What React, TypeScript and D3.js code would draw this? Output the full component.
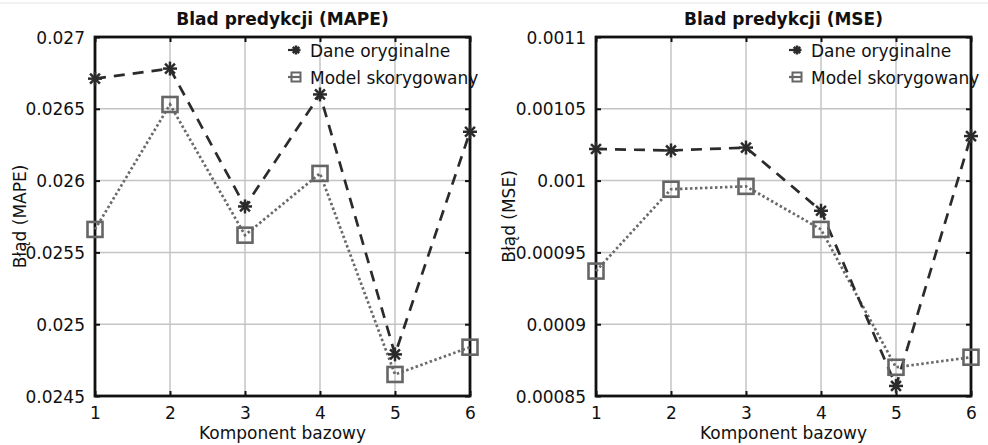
import React, { useEffect, useRef } from 'react';
import * as d3 from 'd3';

const components = [1, 2, 3, 4, 5, 6];
const seriesNames = ['Dane oryginalne', 'Model skorygowany'];

const mapeOriginal = [0.02671, 0.02678, 0.02582, 0.0266, 0.02479, 0.02634];
const mapeCorrected = [0.02566, 0.02653, 0.02562, 0.02605, 0.02465, 0.02484];
const mapeTicks = ['0.0245', '0.025', '0.0255', '0.026', '0.0265', '0.027'];

const mseOriginal = [0.001022, 0.001021, 0.001023, 0.000979, 0.000857, 0.001031];
const mseCorrected = [0.000937, 0.000994, 0.000996, 0.000966, 0.00087, 0.000877];
const mseTicks = ['0.00085', '0.0009', '0.00095', '0.001', '0.00105', '0.0011'];

const FONT = '"DejaVu Sans", Verdana, sans-serif';

type PanelProps = {
  left: number;
  right: number;
  title: string;
  yLabel: string;
  yLabelX: number;
  ticks: string[];
  original: number[];
  corrected: number[];
};

const TOP = 37;
const BOTTOM = 396;

// 8-arm star like matlab's '*'
function star(g: any, cx: number, cy: number, r: number, color: string) {
  const s = g.append('g').attr('transform', `translate(${cx},${cy})`);
  for (let k = 0; k < 4; k++) {
    const a = (k * Math.PI) / 4;
    s.append('line')
      .attr('x1', -r * Math.cos(a)).attr('y1', -r * Math.sin(a))
      .attr('x2', r * Math.cos(a)).attr('y2', r * Math.sin(a))
      .attr('stroke', color).attr('stroke-width', 2.5);
  }
}

function square(g: any, cx: number, cy: number, r: number, color: string, w = 2.6) {
  g.append('rect')
    .attr('x', cx - r).attr('y', cy - r)
    .attr('width', 2 * r).attr('height', 2 * r)
    .attr('fill', 'none').attr('stroke', color).attr('stroke-width', w);
}

function drawPanel(svg: any, p: PanelProps) {
  const vals = p.ticks.map(t => +t);
  const x = d3.scaleLinear().domain([1, 6]).range([p.left, p.right]);
  const y = d3.scaleLinear().domain([vals[0], vals[vals.length - 1]]).range([BOTTOM, TOP]);
  const g = svg.append('g');

  // grid
  g.append('g').selectAll('line').data(components.slice(1, -1)).join('line')
    .attr('x1', d => x(d)).attr('x2', d => x(d)).attr('y1', TOP).attr('y2', BOTTOM)
    .attr('stroke', '#c4c4c4').attr('stroke-width', 1.5);
  g.append('g').selectAll('line').data(vals.slice(1, -1)).join('line')
    .attr('y1', d => y(d)).attr('y2', d => y(d)).attr('x1', p.left).attr('x2', p.right)
    .attr('stroke', '#c4c4c4').attr('stroke-width', 1.5);

  // axes
  const yAxis = d3.axisLeft(y).tickValues(vals).tickFormat((d, i) => p.ticks[i]).tickSize(-5).tickPadding(10);
  const yAxisR = d3.axisRight(y).tickValues(vals).tickFormat(() => '').tickSize(-5);
  const xAxis = d3.axisBottom(x).tickValues(components).tickFormat(d3.format('d')).tickSize(-5).tickPadding(11);
  const xAxisT = d3.axisTop(x).tickValues(components).tickFormat(() => '').tickSize(-5);

  const ay = g.append('g').attr('transform', `translate(${p.left},0)`).call(yAxis);
  const ayr = g.append('g').attr('transform', `translate(${p.right},0)`).call(yAxisR);
  const ax = g.append('g').attr('transform', `translate(0,${BOTTOM})`).call(xAxis);
  const axt = g.append('g').attr('transform', `translate(0,${TOP})`).call(xAxisT);
  [ay, ayr, ax, axt].forEach(a => {
    a.select('.domain').remove();
    a.selectAll('line').attr('stroke', '#111').attr('stroke-width', 2);
    a.selectAll('text').attr('font-family', FONT).attr('font-size', 17).attr('fill', '#111');
  });
  ay.selectAll('text').attr('dy', '0.36em');

  g.append('rect')
    .attr('x', p.left).attr('y', TOP)
    .attr('width', p.right - p.left).attr('height', BOTTOM - TOP)
    .attr('fill', 'none').attr('stroke', '#111').attr('stroke-width', 2.8);

  // lines
  const line = d3.line<number>().x((d, i) => x(components[i])).y(d => y(d));
  g.append('path').attr('d', line(p.corrected)!).attr('fill', 'none')
    .attr('stroke', '#6a6a6a').attr('stroke-width', 2.7).attr('stroke-dasharray', '2.5,2.5');
  g.append('path').attr('d', line(p.original)!).attr('fill', 'none')
    .attr('stroke', '#2b2b2b').attr('stroke-width', 2.7).attr('stroke-dasharray', '11,8');

  p.corrected.forEach((v, i) => square(g, x(components[i]), y(v), 7.5, '#666'));
  p.original.forEach((v, i) => star(g, x(components[i]), y(v), 7, '#2b2b2b'));

  // title and labels
  const cx = (p.left + p.right) / 2;
  g.append('text').attr('x', cx).attr('y', 25).attr('text-anchor', 'middle')
    .attr('font-family', FONT).attr('font-size', 17).attr('font-weight', 'bold').attr('fill', '#111')
    .text(p.title);
  g.append('text').attr('x', cx).attr('y', 439).attr('text-anchor', 'middle')
    .attr('font-family', FONT).attr('font-size', 17).attr('fill', '#111')
    .text('Komponent bazowy');
  g.append('text').attr('transform', `translate(${p.yLabelX},${(TOP + BOTTOM) / 2}) rotate(-90)`)
    .attr('text-anchor', 'middle')
    .attr('font-family', FONT).attr('font-size', 17).attr('fill', '#111')
    .text(p.yLabel);

  // legend
  const lx = p.right - 175;
  const leg = g.append('g');
  [0, 1].forEach(i => {
    const ly = 50 + i * 27;
    const col = i === 0 ? '#2b2b2b' : '#666';
    leg.append('line').attr('x1', lx - 7).attr('x2', lx + 5).attr('y1', ly).attr('y2', ly)
      .attr('stroke', col).attr('stroke-width', 2.2);
    if (i === 0) star(leg, lx + 1, ly, 4.5, col);
    else square(leg, lx + 1, ly, 4.5, col, 2);
    leg.append('text').attr('x', lx + 15).attr('y', ly + 6.5)
      .attr('font-family', FONT).attr('font-size', 17).attr('fill', '#111')
      .text(seriesNames[i]);
  });
}

export default function App() {
  const ref = useRef<SVGSVGElement>(null);

  useEffect(() => {
    const svg = d3.select(ref.current);
    svg.selectAll('*').remove();
    svg.append('rect').attr('width', 988).attr('height', 445).attr('fill', '#fff');
    svg.append('line').attr('x1', 0).attr('x2', 988).attr('y1', 3).attr('y2', 3)
      .attr('stroke', '#e4e4e4').attr('stroke-width', 1);

    drawPanel(svg, {
      left: 95, right: 470, title: 'Blad predykcji (MAPE)', yLabel: 'Błąd (MAPE)', yLabelX: 26,
      ticks: mapeTicks, original: mapeOriginal, corrected: mapeCorrected,
    });
    drawPanel(svg, {
      left: 596, right: 971, title: 'Blad predykcji (MSE)', yLabel: 'Błąd (MSE)', yLabelX: 515,
      ticks: mseTicks, original: mseOriginal, corrected: mseCorrected,
    });
  }, []);

  return (
    <svg ref={ref} width={988} height={445}
      style={{ position: 'absolute', left: 0, top: 0, display: 'block' }} />
  );
}
